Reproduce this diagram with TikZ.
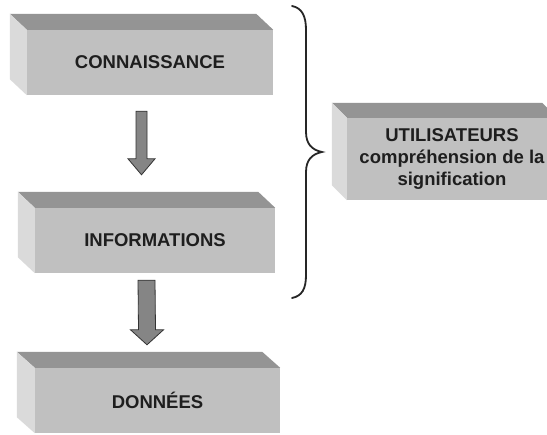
\documentclass[tikz,border=0pt]{standalone}
\usepackage{fontspec}
\setmainfont{Liberation Sans}
\usetikzlibrary{calc}
\definecolor{frontgray}{HTML}{C0C0C0}
\definecolor{topgray}{HTML}{949494}
\definecolor{sidegray}{HTML}{DADADA}
\definecolor{arrowgray}{HTML}{858585}
\definecolor{inkgray}{HTML}{1E1E1E}
\tikzset{
  front/.style={fill=frontgray, draw=none, inner sep=0pt, align=center,
    font=\fontsize{18.5bp}{22bp}\selectfont\bfseries, text=inkgray},
  topface/.style={fill=topgray, draw=none},
  sideface/.style={fill=sidegray, draw=none},
  blockarrow/.style={fill=arrowgray, draw=black!80, line width=0.8bp, line join=miter},
  bracket/.style={draw=black!85, line width=1.8bp, line cap=round}
}
% extruded box: front node name, depth dx, dy (back face offset up-left)
\newcommand{\boxdepth}[3]{%
  \fill[topface] (#1.north west) -- ++(-#2,-#3) -- ($(#1.north east)+(-#2,-#3)$) -- (#1.north east) -- cycle;
  \fill[sideface] (#1.north west) -- ++(-#2,-#3) -- ($(#1.south west)+(-#2,-#3)$) -- (#1.south west) -- cycle;
}
% vertical block arrow between two named coordinates
\newcommand{\downarrowblock}[5]{%
  \draw[blockarrow] ($(#1)+(-#3,0)$) -- ($(#1)+(#3,0)$) -- ($(#2)+(#3,-#5)$) -- ($(#2)+(#4,-#5)$)
    -- (#2) -- ($(#2)+(-#4,-#5)$) -- ($(#2)+(-#3,-#5)$) -- cycle;
}
\begin{document}
\begin{tikzpicture}[x=1bp,y=-1bp]
\clip (0,0) rectangle (547,435);
\fill[white] (0,0) rectangle (547,435);

% stacked levels
\node[front, minimum width=246bp, minimum height=65bp] (conn) at (150,62.5) {CONNAISSANCE};
\node[front, minimum width=240bp, minimum height=65bp] (info) at (155,240.5) {INFORMATIONS};
\node[front, minimum width=245bp, minimum height=65bp] (donn) at (157.5,400.5) {DONNÉES};
\node[front, minimum width=210bp, minimum height=82bp] (util) at (452,159) {UTILISATEURS\\compréhension de la\\signification};

\boxdepth{conn}{17}{16}
\boxdepth{info}{17}{16}
\boxdepth{donn}{18}{16}
\boxdepth{util}{15}{15}

% arrows between levels
\coordinate (a1s) at ($(conn.south)+(-8.5,16)$);
\coordinate (a1e) at ($(info.north)+(-13.5,-33)$);
\downarrowblock{a1s}{a1e}{5.5}{13.5}{16}

\coordinate (a2s) at ($(info.south)+(-8.5,7)$);
\coordinate (a2e) at ($(donn.north)+(-10.5,-23)$);
\downarrowblock{a2s}{a2e}{8.5}{16.5}{15}

% brace grouping the two upper levels
\draw[bracket] (292,6) .. controls (302,8) and (306,16) .. (306,30) -- (306,132)
  .. controls (306,144) and (312,150) .. (322,152)
  .. controls (312,154) and (306,160) .. (306,172) -- (306,275)
  .. controls (306,289) and (302,296) .. (292,298);
\end{tikzpicture}
\end{document}
